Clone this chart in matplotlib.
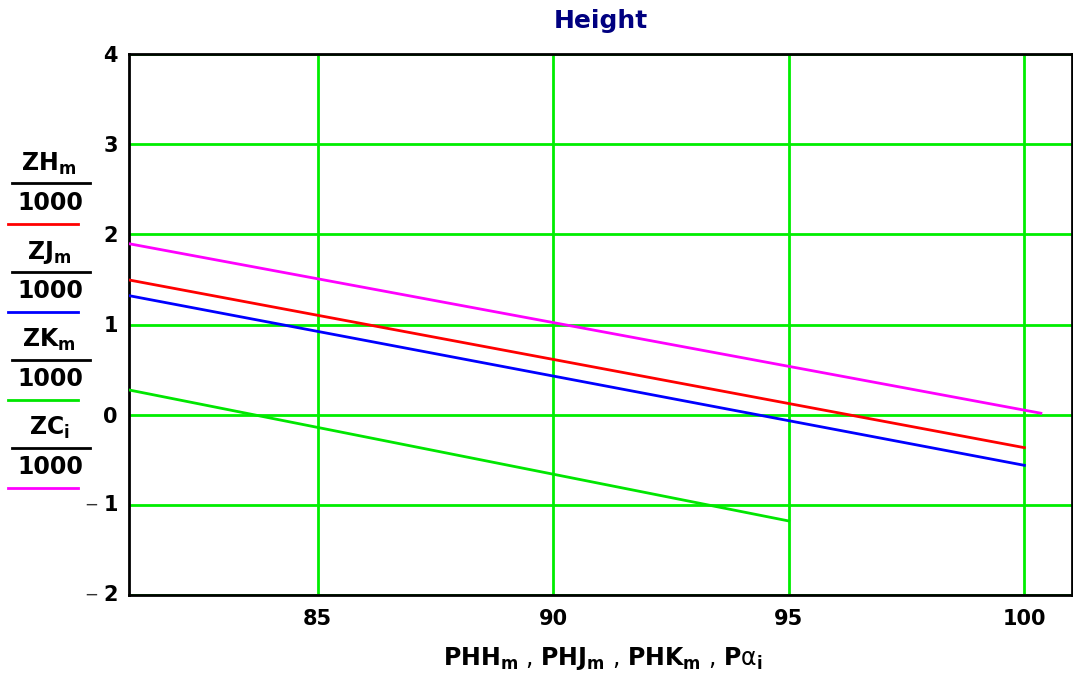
import matplotlib
matplotlib.use("Agg")
import matplotlib.pyplot as plt
from matplotlib.lines import Line2D

plt.rcParams["font.family"] = ["DejaVu Sans"]
plt.rcParams["mathtext.fontset"] = "dejavusans"

# Series: (x start, x end) and (height/1000 start, height/1000 end)
ph_h = [81.0, 100.0]
zh = [1.494, -0.366]
ph_j = [81.0, 100.0]
zj = [1.320, -0.562]
ph_k = [81.0, 95.0]
zk = [0.274, -1.179]
p_alpha = [81.0, 100.35]
zc = [1.896, 0.016]

x_ticks = [85, 90, 95, 100]
y_ticks = [-2, -1, 0, 1, 2, 3, 4]
y_tick_labels = ["", "", "0", "1", "2", "3", "4"]
neg_ticks = [-2, -1]

series_colors = ["#ff0000", "#0000ff", "#00e600", "#ff00ff"]
legend_numerators = [r"$\mathbf{ZH_m}$", r"$\mathbf{ZJ_m}$", r"$\mathbf{ZK_m}$", r"$\mathbf{ZC_i}$"]

W, H = 1073, 679
fig = plt.figure(figsize=(W / 100, H / 100), dpi=100)
ax = fig.add_axes([129 / W, 1 - 595 / H, (1072 - 129) / W, (595 - 54) / H])

ax.set_xlim(81.0, 101.01)
ax.set_ylim(-2, 4)
ax.set_xticks(x_ticks)
ax.set_yticks(y_ticks)
ax.set_xticklabels([str(v) for v in x_ticks], fontsize=15, fontweight="bold")
ax.set_yticklabels(y_tick_labels, fontsize=15, fontweight="bold")
ax.tick_params(length=0, pad=8)
ax.tick_params(axis="x", pad=10)
ax.grid(True, color="#00ee00", linewidth=2, zorder=1)
for s in ax.spines.values():
    s.set_linewidth(2)
    s.set_color("black")

# negative labels: light minus sign followed by a bold digit
for v in neg_ticks:
    ax.annotate(str(abs(v)), xy=(0, v), xycoords=("axes fraction", "data"),
                xytext=(-8, 0), textcoords="offset points", ha="right", va="center",
                fontsize=15, fontweight="bold")
    ax.annotate("\u2212", xy=(0, v), xycoords=("axes fraction", "data"),
                xytext=(-22, 0), textcoords="offset points", ha="right", va="center",
                fontsize=12, color="#333333")

ax.plot(ph_h, zh, color=series_colors[0], lw=2, zorder=3)
ax.plot(ph_j, zj, color=series_colors[1], lw=2, zorder=3)
ax.plot(ph_k, zk, color=series_colors[2], lw=2, zorder=3)
ax.plot(p_alpha, zc, color=series_colors[3], lw=2, zorder=3)

fig.text(601 / W, 1 - 21 / H, "Height", color="#000080", fontsize=18,
         fontweight="bold", ha="center", va="center")
fig.text(603 / W, 1 - 659 / H,
         r"$\mathbf{PHH_m}$ , $\mathbf{PHJ_m}$ , $\mathbf{PHK_m}$ , $\mathbf{P}\mathrm{\alpha}_\mathbf{i}$",
         fontsize=17, ha="center", va="center")

# stacked fraction labels with line keys on the left
for i, (num, col) in enumerate(zip(legend_numerators, series_colors)):
    dy = i * 88
    fig.text(49 / W, 1 - (164 + dy) / H, num, fontsize=17, ha="center", va="center")
    fig.add_artist(Line2D([12 / W, 90 / W], [1 - (183.5 + dy) / H] * 2, color="black", lw=2))
    fig.text(50 / W, 1 - (203 + dy) / H, "1000", fontsize=17, fontweight="bold",
             ha="center", va="center")
    fig.add_artist(Line2D([8 / W, 78 / W], [1 - (224 + dy) / H] * 2, color=col, lw=2))

fig.savefig("out.png", dpi=100)
